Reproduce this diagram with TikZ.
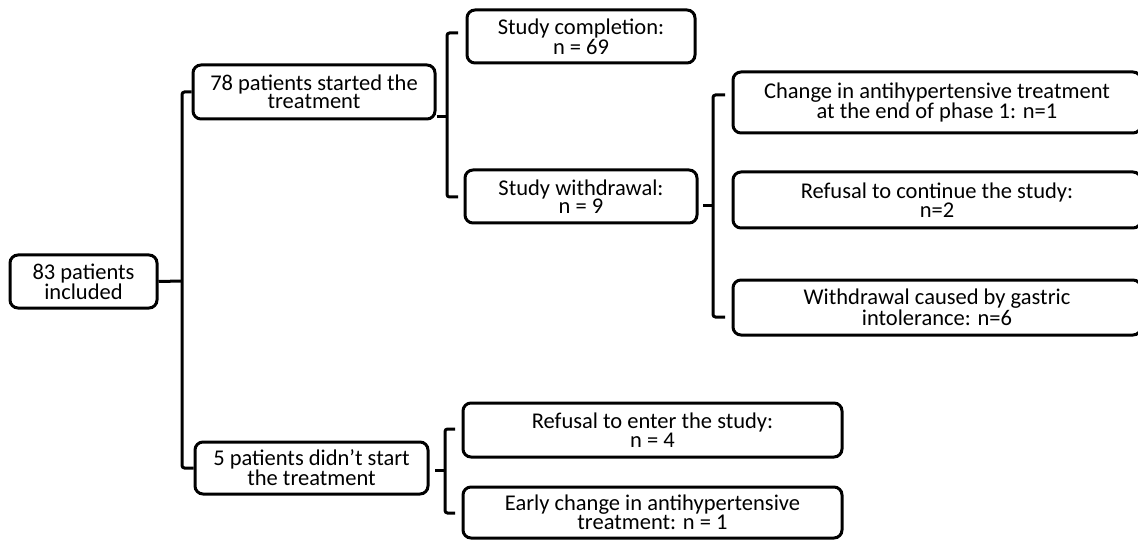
\documentclass[tikz,border=0pt]{standalone}
\usepackage{fontspec}
\setmainfont{Carlito}
\usetikzlibrary{calc}
\begin{document}
\begin{tikzpicture}[x=1pt,y=-1pt,
  box/.style={draw, line width=3pt, rounded corners=8pt, align=center, inner sep=0pt, font=\fontsize{22.5}{18.5}\selectfont},
  brk/.style={line width=3pt, rounded corners=2.5pt}]
\useasboundingbox (0,0) rectangle (1138,540);
\clip (0,0) rectangle (1138,540);
% boxes
\node[box, minimum width=147pt, minimum height=53pt] (inc) at (83.5,281.5) {83 patients\\included};
\node[box, minimum width=242pt, minimum height=54pt] (start) at (314,92) {78 patients started the\\treatment};
\node[box, minimum width=228pt, minimum height=53pt] (comp) at (581,36.5) {Study completion:\\n = 69};
\node[box, minimum width=232pt, minimum height=53pt] (wd) at (581,196.5) {Study withdrawal:\\n = 9};
\node[box, minimum width=408pt, minimum height=61pt] (chg) at (937,102.5) {Change in antihypertensive treatment\\at the end of phase 1: n=1};
\node[box, minimum width=408pt, minimum height=56pt] (ref) at (937,200) {Refusal to continue the study:\\n=2};
\node[box, minimum width=408pt, minimum height=55pt] (gas) at (937,307.5) {Withdrawal caused by gastric\\intolerance: n=6};
\node[box, minimum width=233pt, minimum height=52pt] (nost) at (311.5,468) {5 patients didn’t start\\the treatment};
\node[box, minimum width=379pt, minimum height=54pt] (rent) at (652.5,430) {Refusal to enter the study:\\n = 4};
\node[box, minimum width=379pt, minimum height=51pt] (early) at (652.5,512.5) {Early change in antihypertensive\\treatment: n = 1};
% main bracket
\coordinate (m1) at (182,281);
\draw[brk] (inc.east) -- (m1);
\draw[brk] (start.west) -| (m1) |- (nost.west);
% bracket after "78 patients"
\coordinate (b1m) at (447,117);
\coordinate (b1t) at (458,33);
\coordinate (b1b) at (458,197);
\draw[brk] (start.east |- b1m) -- (b1m);
\draw[brk] (b1t) -| (b1m) |- (b1b);
% bracket after "Study withdrawal"
\coordinate (b2m) at (713,206);
\coordinate (b2s) at (703,206);
\coordinate (b2t) at (725,95);
\coordinate (b2b) at (725,317);
\draw[brk] (b2s) -- (b2m);
\draw[brk] (b2t) -| (b2m) |- (b2b);
% bracket after "5 patients"
\coordinate (b3m) at (445,470);
\coordinate (b3s) at (435,470);
\coordinate (b3t) at (455,429);
\coordinate (b3b) at (455,513);
\draw[brk] (b3s) -- (b3m);
\draw[brk] (b3t) -| (b3m) |- (b3b);
\end{tikzpicture}
\end{document}
